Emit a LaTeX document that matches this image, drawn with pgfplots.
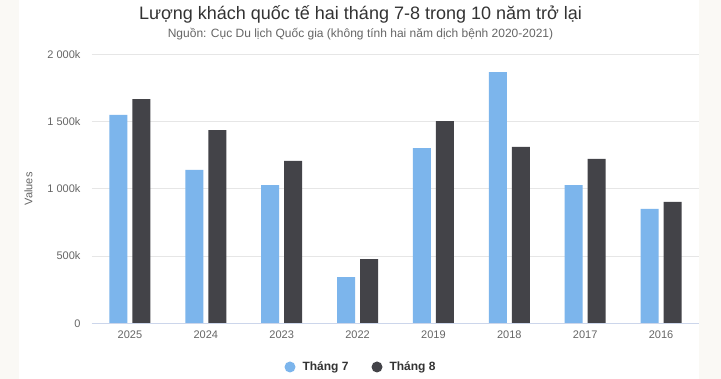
\documentclass[border=0pt]{standalone}
\usepackage{pgfplots}
\pgfplotsset{compat=1.18}
\usepackage{fontspec}
\setmainfont{Liberation Sans}
\definecolor{bgout}{HTML}{FAF9F5}
\definecolor{cA}{HTML}{7CB5EC}
\definecolor{cB}{HTML}{434348}
\definecolor{txt}{HTML}{333333}
\definecolor{lab}{HTML}{666666}
\definecolor{gridc}{HTML}{E6E6E6}
\definecolor{axl}{HTML}{CCD6EB}
\pgfplotstableread{
x  t7    t8
0  1549  1667
1  1140  1437
2  1028  1207
3  344   478
4  1303  1504
5  1868  1311
6  1028  1222
7  850   902
}\data
\begin{document}
\begin{tikzpicture}[x=1pt,y=1pt]
\fill[bgout] (0,0) rectangle (721,379);
\fill[white] (19,0) rectangle (699,379);
\node[txt,font=\fontsize{18}{20}\selectfont] at (360.5,365) {Lượng khách quốc tế hai tháng 7-8 trong 10 năm trở lại};
\node[lab,font=\fontsize{12}{14}\selectfont] at (360.5,345) {Nguồn: Cục Du lịch Quốc gia (không tính hai năm dịch bệnh 2020-2021)};
\begin{axis}[
  at={(92pt,55.7pt)}, anchor=south west,
  scale only axis, width=607pt, height=269pt,
  xmin=-0.5, xmax=7.5, ymin=0, ymax=2000,
  ybar=5pt, bar width=18pt,
  axis line style={draw=none},
  ytick={0,500,1000,1500,2000},
  yticklabels={0,500k,1 000k,1 500k,2 000k},
  ymajorgrids, xmajorgrids=false,
  major grid style={draw=gridc, line width=0.8pt},
  xtick=data, xticklabels={2025,2024,2023,2022,2019,2018,2017,2016},
  major tick length=0pt,
  tick label style={lab, font=\fontsize{11}{13}\selectfont},
  xticklabel style={yshift=-4pt},
  yticklabel style={xshift=-8pt},
  ylabel={Values}, ylabel style={lab, font=\fontsize{11}{13}\selectfont, yshift=8pt},
  clip=false,
]
\addplot[fill=cA, draw=none] table[x=x,y=t7] {\data};
\addplot[fill=cB, draw=none] table[x=x,y=t8] {\data};
\draw[axl, line width=0.8pt] (axis cs:-0.5,0) -- (axis cs:7.5,0);
\end{axis}
\fill[cA] (290,12) circle (5.5);
\node[txt,anchor=west,font=\bfseries\fontsize{12}{14}\selectfont] at (299,12) {Tháng 7};
\fill[cB] (377,12) circle (5.5);
\node[txt,anchor=west,font=\bfseries\fontsize{12}{14}\selectfont] at (386,12) {Tháng 8};
\end{tikzpicture}
\end{document}
